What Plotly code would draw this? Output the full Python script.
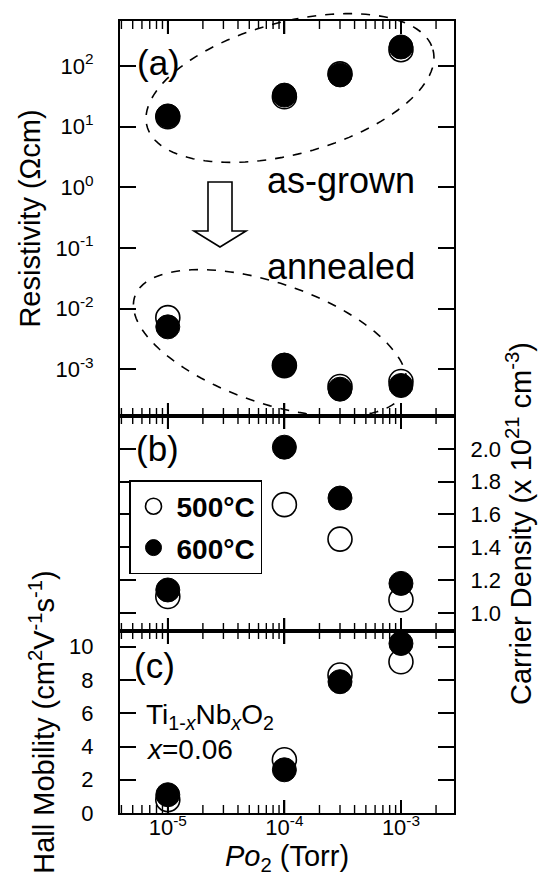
import numpy as np
import plotly.graph_objects as go

# ---------------- data ----------------
po2 = [1e-5, 1e-4, 3e-4, 1e-3]                      # Torr

rho_asgrown_500 = [14.5, 31, 74, 185]               # Ohm cm
rho_asgrown_600 = [15, 33, 71, 205]
rho_annealed_500 = [7.1e-3, 1.15e-3, 5.2e-4, 6.3e-4]
rho_annealed_600 = [5.0e-3, 1.17e-3, 4.7e-4, 5.4e-4]

n_500 = [1.10, 1.66, 1.45, 1.08]                    # x 1e21 cm^-3
n_600 = [1.14, 2.01, 1.70, 1.18]

mu_500 = [0.8, 3.2, 8.3, 9.1]                       # cm2/Vs
mu_600 = [1.1, 2.6, 7.9, 10.2]

labels = ["500°C", "600°C"]

rho_ticks = [1e-3, 1e-2, 1e-1, 1e0, 1e1, 1e2]
rho_ticktext = ["10<sup>-3</sup>", "10<sup>-2</sup>", "10<sup>-1</sup>",
                "10<sup>0</sup>", "10<sup>1</sup>", "10<sup>2</sup>"]
x_ticks = [1e-5, 1e-4, 1e-3]
x_ticktext = ["10<sup>-5</sup>", "10<sup>-4</sup>", "10<sup>-3</sup>"]
x_minor = [m * 10.0 ** e for e in (-6, -5, -4, -3) for m in range(2, 10)]
n_ticks = [1.0, 1.2, 1.4, 1.6, 1.8, 2.0]
mu_ticks = [0, 2, 4, 6, 8, 10]

# ---------------- geometry helpers (pixel -> paper) ----------------
W, H = 549, 884
L, R, T, B = 112, 446, 13, 805
AB, BC = 408, 623            # pixel rows of the panel boundaries


def X(px):
    return (px - L) / (R - L)


def Y(py):
    return (B - py) / (B - T)


FONT = "Liberation Sans, Arial, sans-serif"
xrange = [-5.41, -2.545]

fig = go.Figure()

open_marker = dict(symbol="circle", size=24, color="white",
                   line=dict(color="black", width=1.6))
fill_marker = dict(symbol="circle", size=24, color="black",
                   line=dict(color="black", width=1))

# panel (a)
for ys, mk, nm in [(rho_asgrown_500, open_marker, labels[0]),
                   (rho_annealed_500, open_marker, labels[0]),
                   (rho_asgrown_600, fill_marker, labels[1]),
                   (rho_annealed_600, fill_marker, labels[1])]:
    fig.add_trace(go.Scatter(x=po2, y=ys, mode="markers", marker=mk, name=nm,
                             legendgroup=nm, showlegend=False,
                             xaxis="x", yaxis="y", cliponaxis=False))
# panel (b)
fig.add_trace(go.Scatter(x=po2, y=n_500, mode="markers", marker=open_marker,
                         name="<b>" + labels[0] + "</b>", legendgroup=labels[0],
                         xaxis="x2", yaxis="y2", cliponaxis=False))
fig.add_trace(go.Scatter(x=po2, y=n_600, mode="markers", marker=fill_marker,
                         name="<b>" + labels[1] + "</b>", legendgroup=labels[1],
                         xaxis="x2", yaxis="y2", cliponaxis=False))
# panel (c)
fig.add_trace(go.Scatter(x=po2, y=mu_500, mode="markers", marker=open_marker,
                         name=labels[0], legendgroup=labels[0], showlegend=False,
                         xaxis="x3", yaxis="y3", cliponaxis=False))
fig.add_trace(go.Scatter(x=po2, y=mu_600, mode="markers", marker=fill_marker,
                         name=labels[1], legendgroup=labels[1], showlegend=False,
                         xaxis="x3", yaxis="y3", cliponaxis=False))

common_x = dict(type="log", range=xrange, showline=True, linewidth=2,
                linecolor="black", mirror="ticks", ticks="inside", ticklen=13,
                tickwidth=1.5, tickcolor="black", tickmode="array",
                tickvals=x_ticks, ticktext=x_ticktext, showgrid=False,
                zeroline=False,
                tickfont=dict(family=FONT, size=22, color="black"))
common_y = dict(showline=True, linewidth=2, linecolor="black", mirror="ticks",
                ticks="inside", ticklen=16, tickwidth=1.5, tickcolor="black",
                showgrid=False, zeroline=False,
                tickfont=dict(family=FONT, size=22, color="black"))

title_font = dict(family=FONT, size=29, color="black")

fig.update_layout(
    width=W, height=H,
    margin=dict(l=L, r=W - R, t=T, b=H - B, autoexpand=False),
    paper_bgcolor="white", plot_bgcolor="white",
    font=dict(family=FONT, color="black"),
    xaxis=dict(common_x, domain=[0, 1], anchor="y", showticklabels=False),
    xaxis2=dict(common_x, domain=[0, 1], anchor="y2", showticklabels=False),
    xaxis3=dict(common_x, domain=[0, 1], anchor="y3",
                showticklabels=True, ticklabelstandoff=-6,
                title=dict(text="<i>Po</i><sub>2</sub> (Torr)",
                           font=title_font, standoff=0)),
    yaxis=dict(common_y, domain=[Y(AB), 1], anchor="x", type="log",
               range=[-3.77, 2.74], tickvals=rho_ticks, ticktext=rho_ticktext,
               ticklabelstandoff=20,
               title=dict(text="Resistivity (Ωcm)", font=title_font,
                          standoff=6)),
    yaxis2=dict(common_y, domain=[Y(BC), Y(AB)], anchor="x2", side="right",
                range=[0.89, 2.2], tickvals=n_ticks, tickformat=".1f",
                ticklabelstandoff=10,
                title=dict(text="Carrier Density (x 10<sup>21</sup> cm<sup>-3</sup>)",
                           font=title_font, standoff=10)),
    yaxis3=dict(common_y, domain=[0, Y(BC)], anchor="x3",
                range=[0, 10.95], tickvals=mu_ticks, ticklabelstandoff=20,
                title=dict(text="Hall Mobility (cm<sup>2</sup>V<sup>-1</sup>s<sup>-1</sup>)",
                           font=title_font, standoff=6)),
    showlegend=True,
    legend=dict(x=X(121), y=Y(472), xanchor="left", yanchor="top",
                bordercolor="black", borderwidth=1.5, bgcolor="white",
                font=dict(family=FONT, size=28, color="black"),
                tracegroupgap=2, itemwidth=36),
)


# ---------------- x tick marks on every panel edge, pointing inward ----------
def xpaper(v):
    """position of an x value on the shared log axis, as a paper fraction"""
    return (np.log10(v) - xrange[0]) / (xrange[1] - xrange[0])


lo, hi = 10 ** xrange[0], 10 ** xrange[1]
edges = [(T, +1), (AB, -1), (AB, +1), (BC, -1), (BC, +1), (B, -1)]
tick_sets = [(x_ticks, 13, 1.8), ([v for v in x_minor if lo < v < hi], 8, 1.4)]
for row, sgn in edges:
    for vals, tlen, tw in tick_sets:
        for v in vals:
            xp = xpaper(v)
            fig.add_shape(type="line", xref="paper", yref="paper",
                          x0=xp, x1=xp, y0=Y(row), y1=Y(row + sgn * tlen),
                          layer="above", line=dict(color="black", width=tw))


# ---------------- decorations ----------------
def ellipse_path(cx, cy, a, b, ang_deg, n=120):
    t = np.linspace(0, 2 * np.pi, n)
    th = np.deg2rad(ang_deg)
    px = cx + a * np.cos(t) * np.cos(th) - b * np.sin(t) * np.sin(th)
    py = cy + a * np.cos(t) * np.sin(th) + b * np.sin(t) * np.cos(th)
    pts = [f"{X(u):.5f},{Y(v):.5f}" for u, v in zip(px, py)]
    return "M " + " L ".join(pts) + " Z"


dash_line = dict(color="black", width=1.6, dash="dash")
fig.add_shape(type="path", xref="paper", yref="paper",
              path=ellipse_path(282, 80, 148, 66, -15), line=dash_line)
fig.add_shape(type="path", xref="paper", yref="paper",
              path=ellipse_path(262, 335, 143, 60, 19), line=dash_line)

arrow = [(200, 174), (224, 174), (224, 223), (238, 223), (212, 239),
         (186, 223), (200, 223)]
fig.add_shape(type="path", xref="paper", yref="paper",
              path="M " + " L ".join(f"{X(u):.5f},{Y(v):.5f}" for u, v in arrow) + " Z",
              line=dict(color="black", width=1.6), fillcolor="white")


def note(text, px, py, size, xanchor="center"):
    fig.add_annotation(text=text, x=X(px), y=Y(py), xref="paper", yref="paper",
                       showarrow=False, xanchor=xanchor, yanchor="middle",
                       font=dict(family=FONT, size=size, color="black"))


note("(a)", 150, 55, 35)
note("(b)", 149, 440, 35)
note("(c)", 146, 657, 35)
note("as-grown", 333, 172, 36)
note("annealed", 333, 258, 36)
note("Ti<sub>1-<i>x</i></sub>Nb<sub><i>x</i></sub>O<sub>2</sub>", 136, 708, 28, "left")
note("<i>x</i>=0.06", 136, 741, 28, "left")

fig.write_html("out.html")
